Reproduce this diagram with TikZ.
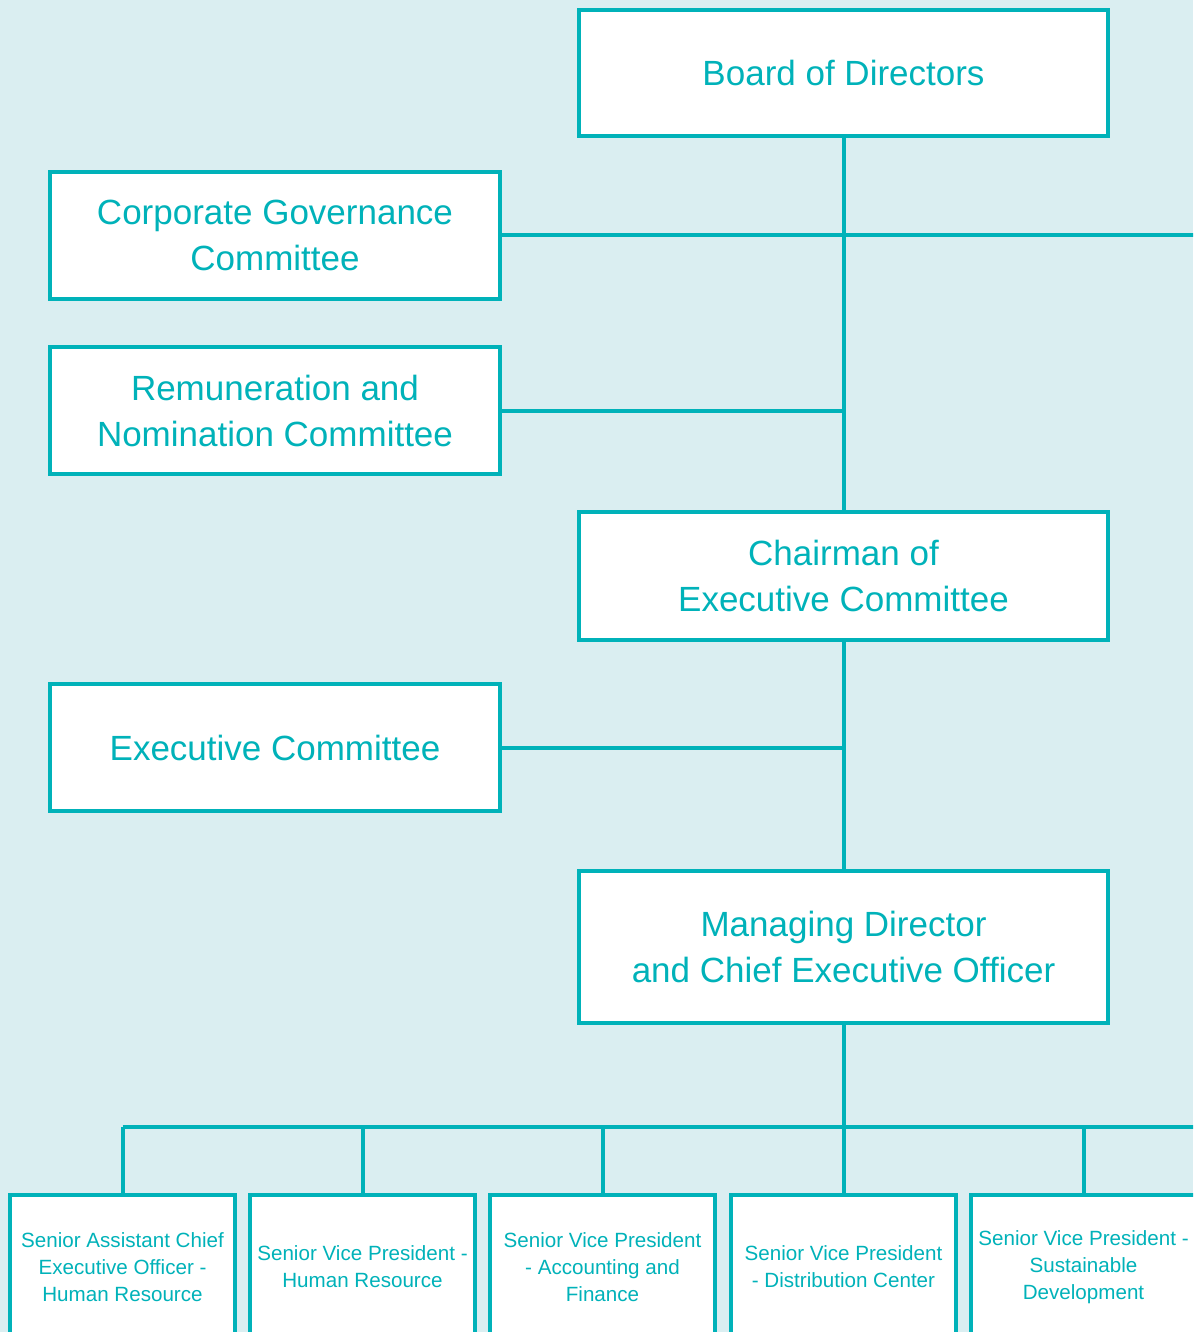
\documentclass[tikz,border=0pt]{standalone}
\usepackage{fontspec}
\setmainfont{Liberation Sans}
\definecolor{paper}{HTML}{DAEEF1}
\definecolor{teal}{HTML}{00B2B9}
\begin{document}
\begin{tikzpicture}[x=1pt,y=-1pt,
  orgbox/.style={draw=teal, fill=white, line width=3.8pt, inner sep=0pt, outer sep=0pt,
    anchor=north west, align=center, text=teal},
  bigbox/.style={orgbox, font=\fontsize{35}{46}\selectfont},
  smallbox/.style={orgbox, minimum width=225pt, minimum height=144pt,
    font=\fontsize{20.6}{27}\selectfont},
  link/.style={draw=teal, line width=4pt}]
\useasboundingbox (0,0) rectangle (1193,1332);
\fill[paper] (0,0) rectangle (1193,1332);
\clip (0,0) rectangle (1193,1332);

% upper tier
\node[bigbox, minimum width=529pt, minimum height=126pt] (board) at (579,10) {Board of Directors};
\node[bigbox, minimum width=450pt, minimum height=127pt] (cgc) at (50,172) {Corporate Governance\\Committee};
\node[bigbox, minimum width=450pt, minimum height=127pt] (rnc) at (50,347) {Remuneration and\\Nomination Committee};
\node[bigbox, minimum width=529pt, minimum height=128pt] (chair) at (579,512) {Chairman of\\Executive Committee};
\node[bigbox, minimum width=450pt, minimum height=127pt] (exec) at (50,684) {Executive Committee};
\node[bigbox, minimum width=529pt, minimum height=152pt] (md) at (579,871) {Managing Director\\and Chief Executive Officer};

% lower tier
\node[smallbox] (b1) at (10,1195) {Senior Assistant Chief\\Executive Officer -\\Human Resource};
\node[smallbox] (b2) at (250,1195) {Senior Vice President -\\Human Resource};
\node[smallbox] (b3) at (490,1195) {Senior Vice President\\- Accounting and\\Finance};
\node[smallbox] (b4) at (731,1195) {Senior Vice President\\- Distribution Center};
\node[smallbox] (b5) at (971,1195) {Senior Vice President -\\Sustainable\\Development};

% connectors
\coordinate (edgeA) at (1200,236);
\coordinate (bus) at (844,1127);
\coordinate (edgeB) at (1200,1127);
\draw[link] (board.south) -- (chair.north);
\draw[link] (chair.south) -- (md.north);
\draw[link] (cgc.east) -- (cgc.east -| edgeA);
\draw[link] (rnc.east) -- (rnc.east -| board.south);
\draw[link] (exec.east) -- (exec.east -| chair.south);
\draw[link] (md.south) -- (md.south |- bus);
\draw[link] (b1.north |- bus) -- (edgeB);
\foreach \b in {b1,b2,b3,b4,b5}
  \draw[link] (\b.north |- bus) -- (\b.north);
\end{tikzpicture}
\end{document}
